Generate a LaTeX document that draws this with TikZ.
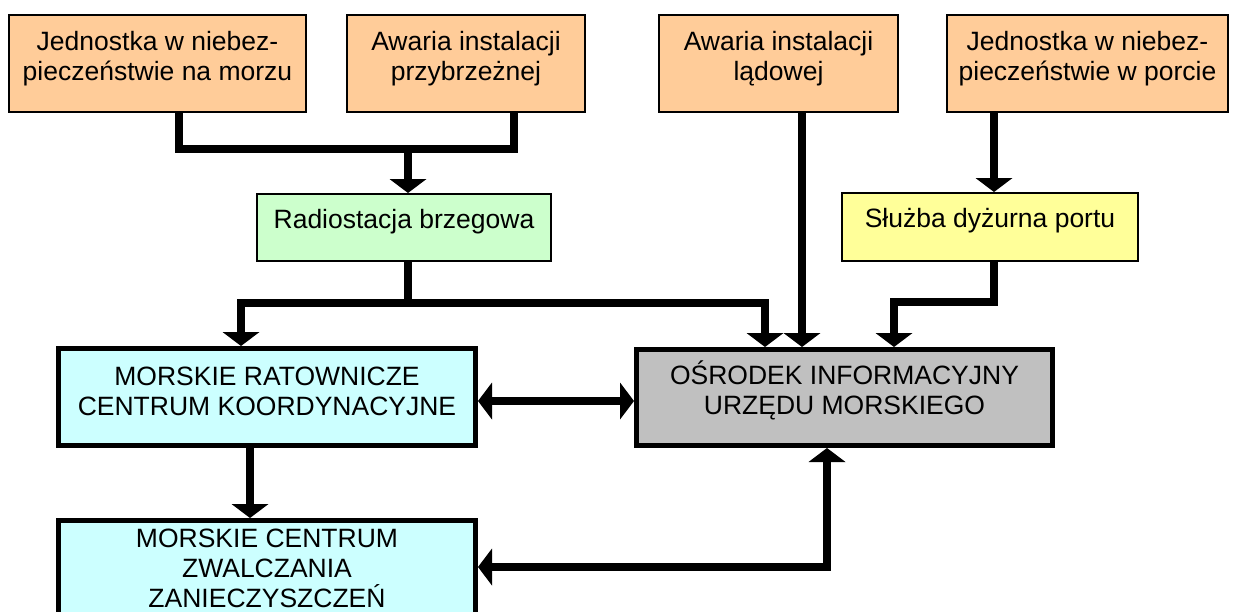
\documentclass[tikz,border=0pt]{standalone}
\usepackage{fontspec}
\setmainfont{Liberation Sans}
\usetikzlibrary{arrows.meta}
\definecolor{cOrange}{HTML}{FFCC99}
\definecolor{cGreen}{HTML}{CCFFCC}
\definecolor{cYellow}{HTML}{FFFF99}
\definecolor{cGray}{HTML}{C0C0C0}
\definecolor{cCyan}{HTML}{CCFFFF}
\newcommand{\myTS}{\rule{0pt}{25pt}}
\tikzset{
  thinbox/.style={draw=black, line width=2pt, rectangle, inner sep=0pt},
  thickbox/.style={draw=black, line width=5pt, rectangle, inner sep=0pt},
  txt/.style={align=center, inner sep=0pt, anchor=north, font=\fontsize{26.5pt}{30pt}\selectfont},
  conn/.style={line width=7.5pt, line join=miter},
  arr/.style={conn, -{Triangle[length=14pt,width=37pt,line width=0pt]}},
  darr/.style={conn, {Triangle[length=14pt,width=37pt,line width=0pt]}-{Triangle[length=14pt,width=37pt,line width=0pt]}}
}
\begin{document}
\begin{tikzpicture}[x=1pt,y=-1pt]
\clip (0,0) rectangle (1233,611);
\fill[white] (0,0) rectangle (1233,611);
% top boxes
\node[thinbox, fill=cOrange, minimum width=297pt, minimum height=97pt] (b1) at (157.5,63.5) {};
\node[thinbox, fill=cOrange, minimum width=238pt, minimum height=97pt] (b2) at (466,63.5) {};
\node[thinbox, fill=cOrange, minimum width=239pt, minimum height=97pt] (b3) at (778.5,63.5) {};
\node[thinbox, fill=cOrange, minimum width=281pt, minimum height=97pt] (b4) at (1087.5,63.5) {};
\node[txt] (b1t) at (157.5,25) {\myTS Jednostka w niebez-\\pieczeństwie na morzu};
\node[txt] (b2t) at (466,25) {\myTS Awaria instalacji\\przybrzeżnej};
\node[txt] (b3t) at (778.5,25) {\myTS Awaria instalacji\\lądowej};
\node[txt] (b4t) at (1087.5,25) {\myTS Jednostka w niebez-\\pieczeństwie w porcie};
% middle boxes
\node[thinbox, fill=cGreen, minimum width=294pt, minimum height=67pt] (radio) at (404,227.5) {};
\node[txt] (radiot) at (404,203) {\myTS Radiostacja brzegowa};
\node[thinbox, fill=cYellow, minimum width=296pt, minimum height=68pt] (sl) at (990,227) {};
\node[txt] (slt) at (990,202) {\myTS Służba dyżurna portu};
% lower boxes
\node[thickbox, fill=cGray, minimum width=416pt, minimum height=96pt] (osr) at (844.5,397.5) {};
\node[txt] (osrt) at (844.5,359) {\myTS OŚRODEK INFORMACYJNY\\URZĘDU MORSKIEGO};
\node[thickbox, fill=cCyan, minimum width=417pt, minimum height=97pt] (mrck) at (267,397) {};
\node[txt] (mrckt) at (267,360) {\myTS MORSKIE RATOWNICZE\\CENTRUM KOORDYNACYJNE};
\node[thickbox, fill=cCyan, minimum width=417pt, minimum height=130pt] (mczz) at (267,585.5) {};
\node[txt] (mczzt) at (267,522) {\myTS MORSKIE CENTRUM\\ZWALCZANIA\\ZANIECZYSZCZEŃ};
% coordinates
\coordinate (j1) at (179,149);
\coordinate (j2) at (514,149);
\coordinate (jm) at (408,149);
\coordinate (r1) at (408,303);
\coordinate (rl) at (241,303);
\coordinate (rr) at (765,303);
\coordinate (c3) at (802,0);
\coordinate (c4) at (994,0);
\coordinate (s1) at (994,302);
\coordinate (s2) at (894,302);
\coordinate (hb) at (0,401);
\coordinate (c5) at (250,0);
\coordinate (c6) at (827,567);
% connectors
\draw[conn] (b1.south -| j1) -- (j1) -- (j2) -- (b2.south -| j2);
\draw[arr] (jm) -- (radio.north -| jm);
\draw[arr] (radio.south -| r1) -- (r1) -- (rl) -- (mrck.north -| rl);
\draw[arr] (r1) -- (rr) -- (osr.north -| rr);
\draw[arr] (b3.south -| c3) -- (osr.north -| c3);
\draw[arr] (b4.south -| c4) -- (sl.north -| c4);
\draw[arr] (sl.south -| s1) -- (s1) -- (s2) -- (osr.north -| s2);
\draw[darr] (mrck.east |- hb) -- (osr.west |- hb);
\draw[arr] (mrck.south -| c5) -- (mczz.north -| c5);
\draw[darr] (mczz.east |- c6) -- (c6) -- (osr.south -| c6);
\end{tikzpicture}
\end{document}
